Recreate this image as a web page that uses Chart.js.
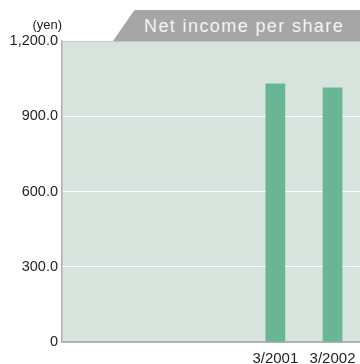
<!DOCTYPE html>
<html>
<head>
<meta charset="utf-8">
<script src="https://cdn.jsdelivr.net/npm/chart.js@4"></script>
<style>
  html, body { margin: 0; padding: 0; background: #fff; overflow: hidden; }
  #wrap { position: relative; width: 360px; height: 364px; }
  #eps { position: absolute; left: 0; top: 0; }
  .tab {
    position: absolute; left: 113px; top: 10px; width: 247px; height: 31px;
    background: #a6a6a6;
    clip-path: polygon(20px 2px, 22px 0, 100% 0, 100% 100%, 0 100%);
  }
  .tab span {
    position: absolute; left: 31px; top: 6px;
    font: 18px "Liberation Sans", Arial, sans-serif; letter-spacing: 1.4px;
    color: #f4f4f4; white-space: nowrap;
  }
  .unit {
    position: absolute; right: 298px; top: 17px;
    font: 13px "Liberation Sans", Arial, sans-serif; color: #222;
  }
</style>
</head>
<body>
<div id="wrap">
  <canvas id="eps" width="360" height="364"></canvas>
  <div class="tab"><span>Net income per share</span></div>
  <div class="unit">(yen)</div>
</div>
<script>
// fiscal periods and net income per share (yen)
const periods = ['3/2001', '3/2002'];
const netIncomePerShare = [1029, 1013];
const yTicks = [0, 300, 600, 900, 1200];

const colors = {
  plot: '#d6e4dd',
  bar: '#68b694',
  axis: '#b0b0b0',
  grid: '#ffffff',
  text: '#1f1f1f'
};

const yearOf = p => parseInt(p.split('/')[1], 10);

// fill the plot area before anything else is drawn
const plotBg = {
  id: 'plotBg',
  beforeDraw(chart) {
    const { ctx, chartArea: a } = chart;
    ctx.save();
    ctx.fillStyle = colors.plot;
    ctx.fillRect(a.left, a.top, a.right - a.left, a.bottom - a.top);
    ctx.restore();
  }
};

new Chart(document.getElementById('eps').getContext('2d'), {
  type: 'bar',
  data: {
    datasets: [{
      data: periods.map((p, i) => ({ x: yearOf(p), y: netIncomePerShare[i] })),
      backgroundColor: colors.bar,
      barThickness: 19
    }]
  },
  options: {
    responsive: false,
    animation: false,
    layout: { padding: { top: 41, left: 0, right: 0, bottom: 0 } },
    plugins: { legend: { display: false }, tooltip: { enabled: false } },
    scales: {
      x: {
        type: 'linear',
        offset: false,
        min: 1997.27,
        max: 2002.48,
        afterBuildTicks: s => { s.ticks = periods.map(p => ({ value: yearOf(p) })); },
        afterFit: s => { s.height = 22; },
        grid: { display: false, offset: false },
        border: { color: colors.axis, width: 2 },
        ticks: {
          autoSkip: false, maxRotation: 0, padding: 0,
          color: colors.text,
          font: { family: 'Liberation Sans', size: 15 },
          callback: v => '3/' + v
        }
      },
      y: {
        min: 0,
        max: 1200,
        afterBuildTicks: s => { s.ticks = yTicks.map(v => ({ value: v })); },
        afterFit: s => { s.width = 62; },
        grid: {
          drawTicks: false,
          lineWidth: 1,
          color: c => c.tick.value === 1200 ? '#c8c8c8' : colors.grid
        },
        border: { color: colors.axis, width: 1.5 },
        ticks: {
          padding: 4,
          color: colors.text,
          font: { family: 'Liberation Sans', size: 14.5 },
          callback: v => v === 0 ? '0' : v.toLocaleString('en-US', { minimumFractionDigits: 1, maximumFractionDigits: 1 })
        }
      }
    }
  },
  plugins: [plotBg]
});
</script>
</body>
</html>
